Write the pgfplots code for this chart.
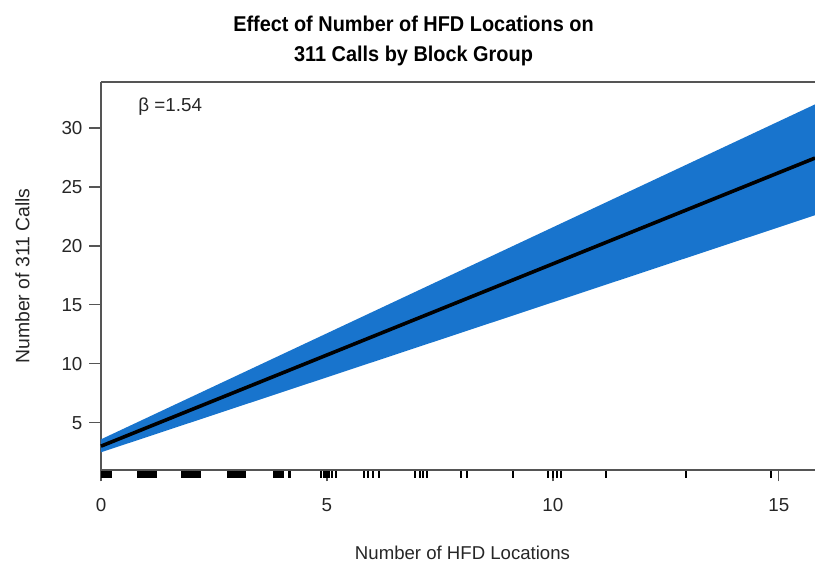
\documentclass[border=0pt]{standalone}
\usepackage{fontspec}
\setmainfont{Liberation Sans}
\newfontfamily\titlefont[FakeStretch=0.93]{Liberation Sans}
\usepackage{pgfplots}
\pgfplotsset{compat=1.18}
\definecolor{bandblue}{HTML}{1874CD}
\definecolor{axgray}{HTML}{555555}
\begin{document}
\begin{tikzpicture}
\begin{axis}[
 scale only axis, width=357pt, height=194pt,
 xmin=0, xmax=15.8, ymin=1.0, ymax=33.9,
 axis x line*=bottom, axis y line*=left,
 axis line style={axgray, line width=0.6pt},
 xtick={0,5,10,15}, ytick={5,10,15,20,25,30},
 tick align=outside, major tick length=5.75pt,
 tick style={axgray, line width=0.6pt},
 ticklabel style={font=\fontsize{9.4}{11}\selectfont, text=black!85},
 xticklabel style={yshift=-5pt},
 /pgf/number format/assume math mode=true,
 clip=false,
]
% confidence band
\addplot[draw=none, fill=bandblue] coordinates {
 (0,3.6) (5,12.59) (10,21.58) (15.8,32.0)
 (15.8,22.6) (10,15.22) (5,8.86) (0,2.5)} -- cycle;
% fitted line
\addplot[black, line width=1.8pt] coordinates {
 (0,3.02) (5,10.75) (10,18.48) (15.8,27.45)};
% rug
\addplot[only marks, mark=|, mark size=1.75pt,
 mark options={line width=1pt, black, yshift=-2.25pt}] coordinates {
 (0.02,1) (0.06,1) (0.10,1) (0.14,1) (0.18,1) (0.22,1)
 (0.82,1) (0.86,1) (0.90,1) (0.94,1) (0.98,1) (1.02,1) (1.06,1) (1.10,1) (1.14,1) (1.18,1) (1.22,1)
 (1.80,1) (1.84,1) (1.88,1) (1.92,1) (1.96,1) (2.00,1) (2.04,1) (2.08,1) (2.12,1) (2.16,1) (2.20,1)
 (2.82,1) (2.86,1) (2.90,1) (2.94,1) (2.98,1) (3.02,1) (3.06,1) (3.10,1) (3.14,1) (3.19,1)
 (3.82,1) (3.86,1) (3.90,1) (3.94,1) (3.98,1) (4.02,1) (4.15,1) (4.19,1)
 (4.87,1) (4.93,1) (4.97,1) (5.01,1) (5.05,1) (5.11,1) (5.20,1)
 (5.82,1) (5.90,1) (6.02,1) (6.15,1)
 (6.95,1) (7.06,1) (7.12,1) (7.21,1)
 (7.96,1) (8.10,1) (9.12,1)
 (9.89,1) (10.00,1) (10.09,1) (10.18,1)
 (11.17,1) (12.94,1) (14.82,1)};
\draw[axgray, line width=0.6pt] (rel axis cs:0,1) -- (rel axis cs:1,1);
\node[anchor=base west, inner sep=0pt, font=\fontsize{9.4}{11}\selectfont, text=black!85] at ([xshift=18.5pt, yshift=-14.85pt]rel axis cs:0,1) {β =1.54};
\node[anchor=base, font=\titlefont\fontsize{10.7}{14}\selectfont\bfseries] at ([xshift=156.25pt, yshift=25.15pt]rel axis cs:0,1) {Effect of Number of HFD Locations on};
\node[anchor=base, font=\titlefont\fontsize{10.7}{14}\selectfont\bfseries] at ([xshift=156.25pt, yshift=10pt]rel axis cs:0,1) {311 Calls by Block Group};
\node[anchor=base, font=\fontsize{9.3}{11}\selectfont, text=black!85] at ([xshift=180.75pt, yshift=-44.65pt]rel axis cs:0,0) {Number of HFD Locations};
\node[anchor=base, rotate=90, font=\fontsize{9.7}{11}\selectfont, text=black!85] at ([xshift=-35.75pt]rel axis cs:0,0.5) {Number of 311 Calls};
\coordinate (SW) at (rel axis cs:0,0);
\coordinate (NE) at (rel axis cs:1,1);
\end{axis}
\path (SW) ++(-50.5pt,-47pt) coordinate (A);
\path (NE) ++(0pt,41pt) coordinate (B);
\pgfresetboundingbox
\path[use as bounding box] (A) rectangle (B);
\end{tikzpicture}
\end{document}
